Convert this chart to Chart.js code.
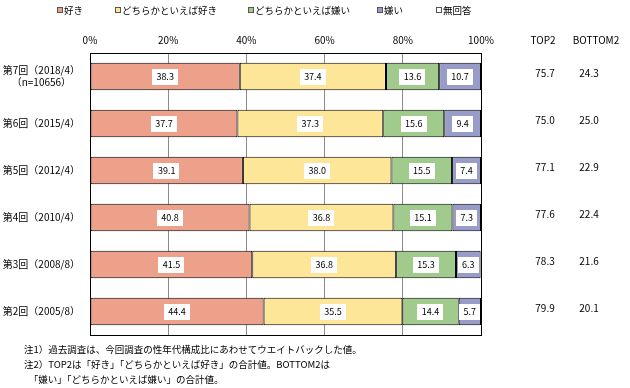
<!DOCTYPE html>
<html lang="ja">
<head>
<meta charset="utf-8">
<script src="https://cdn.jsdelivr.net/npm/chart.js@4"></script>
<style>
  html, body { margin: 0; padding: 0; background: #fff; }
  canvas { display: block; }
</style>
</head>
<body>
<canvas id="likeChart" width="630" height="388"></canvas>
<script>
// Survey rounds (top to bottom)
const categories = [
    ['第7回（2018/4）', '（n=10656）'],
    '第6回（2015/4）',
    '第5回（2012/4）',
    '第4回（2010/4）',
    '第3回（2008/8）',
    '第2回（2005/8）'
];
const seriesNames = ['好き', 'どちらかといえば好き', 'どちらかといえば嫌い', '嫌い', '無回答'];
const suki      = [38.3, 37.7, 39.1, 40.8, 41.5, 44.4];
const yayaSuki  = [37.4, 37.3, 38.0, 36.8, 36.8, 35.5];
const yayaKirai = [13.6, 15.6, 15.5, 15.1, 15.3, 14.4];
const kirai     = [10.7, 9.4, 7.4, 7.3, 6.3, 5.7];
const mukaitou  = [0, 0, 0, 0, 0, 0];
const top2      = [75.7, 75.0, 77.1, 77.6, 78.3, 79.9];
const bottom2   = [24.3, 25.0, 22.9, 22.4, 21.6, 20.1];
const summaryHeaders = ['TOP2', 'BOTTOM2'];
const notes = [
    '注1）過去調査は、今回調査の性年代構成比にあわせてウエイトバックした値。',
    '注2）TOP2は「好き」「どちらかといえば好き」の合計値。BOTTOM2は',
    '　「嫌い」「どちらかといえば嫌い」の合計値。'
];

const colors = ['#eda08a', '#fee699', '#a1cb8d', '#979dc8', '#ffffff'];
const FONT = "'Noto Sans CJK JP', 'Noto Sans', sans-serif";

// legend, value boxes, summary columns and notes
const extrasPlugin = {
    id: 'extras',
    afterDatasetsDraw(chart) {
        const ctx = chart.ctx;
        const area = chart.chartArea;
        ctx.save();
        // plot frame
        ctx.strokeStyle = '#000';
        ctx.lineWidth = 1;
        ctx.strokeRect(Math.round(area.left) + 0.5, Math.round(area.top) + 0.5,
            Math.round(area.right - area.left), Math.round(area.bottom - area.top));

        // value labels in white boxes
        ctx.font = '9px ' + FONT;
        ctx.textAlign = 'center';
        ctx.textBaseline = 'middle';
        chart.data.datasets.forEach((ds, di) => {
            const meta = chart.getDatasetMeta(di);
            meta.data.forEach((bar, i) => {
                const v = ds.data[i];
                if (!v) return;
                const cx = (bar.x + bar.base) / 2;
                const txt = v.toFixed(1);
                const w = ctx.measureText(txt).width + 9;
                ctx.fillStyle = '#fff';
                ctx.fillRect(Math.round(cx - w / 2), Math.round(bar.y - 8), Math.round(w), 16);
                ctx.fillStyle = '#000';
                ctx.fillText(txt, cx, bar.y + 0.5);
            });
        });

        // TOP2 / BOTTOM2 columns
        const yScale = chart.scales.y;
        ctx.font = '10px ' + FONT;
        ctx.fillStyle = '#000';
        ctx.fillText(summaryHeaders[0], 543, 40);
        ctx.fillText(summaryHeaders[1], 596, 40);
        categories.forEach((c, i) => {
            const y = yScale.getPixelForValue(i) - 3;
            ctx.fillText(top2[i].toFixed(1), 545, y);
            ctx.fillText(bottom2[i].toFixed(1), 589, y);
        });

        // legend
        const legendX = [57, 115, 248, 377, 436];
        ctx.font = '9.5px ' + FONT;
        ctx.textAlign = 'left';
        seriesNames.forEach((name, i) => {
            ctx.fillStyle = colors[i];
            ctx.fillRect(legendX[i], 7, 6, 6);
            ctx.strokeStyle = '#555';
            ctx.strokeRect(legendX[i] + 0.5, 7.5, 5, 5);
            ctx.fillStyle = '#000';
            ctx.fillText(name, legendX[i] + 7, 10.5);
        });

        // notes
        ctx.font = '9.5px ' + FONT;
        notes.forEach((n, i) => {
            ctx.fillText(n, 24, 349 + i * 15);
        });
        ctx.restore();
    }
};

const datasetValues = [suki, yayaSuki, yayaKirai, kirai, mukaitou];

new Chart(document.getElementById('likeChart'), {
    type: 'bar',
    data: {
        labels: categories,
        datasets: seriesNames.map((name, i) => ({
            label: name,
            data: datasetValues[i],
            backgroundColor: colors[i],
            borderColor: '#000',
            borderWidth: 1,
            borderSkipped: false,
            barPercentage: 0.58,
            categoryPercentage: 1
        }))
    },
    options: {
        indexAxis: 'y',
        responsive: false,
        animation: false,
        layout: { padding: { left: 0, right: 149, top: 0, bottom: 53 } },
        scales: {
            x: {
                position: 'top',
                stacked: true,
                min: 0,
                max: 100,
                ticks: {
                    stepSize: 20,
                    padding: 7,
                    color: '#000',
                    font: { family: FONT, size: 10 },
                    callback: v => v + '%'
                },
                grid: { color: '#8c8c8c', drawTicks: false },
                border: { color: '#000' },
                afterFit: s => { s.height = 53; }
            },
            y: {
                stacked: true,
                ticks: {
                    crossAlign: 'center',
                    padding: 10,
                    color: '#000',
                    font: { family: FONT, size: 10 }
                },
                grid: { display: false, drawTicks: false },
                border: { color: '#000' },
                afterFit: s => { s.width = 90; }
            }
        },
        plugins: {
            legend: { display: false },
            tooltip: { enabled: false }
        }
    },
    plugins: [extrasPlugin]
});
</script>
</body>
</html>
